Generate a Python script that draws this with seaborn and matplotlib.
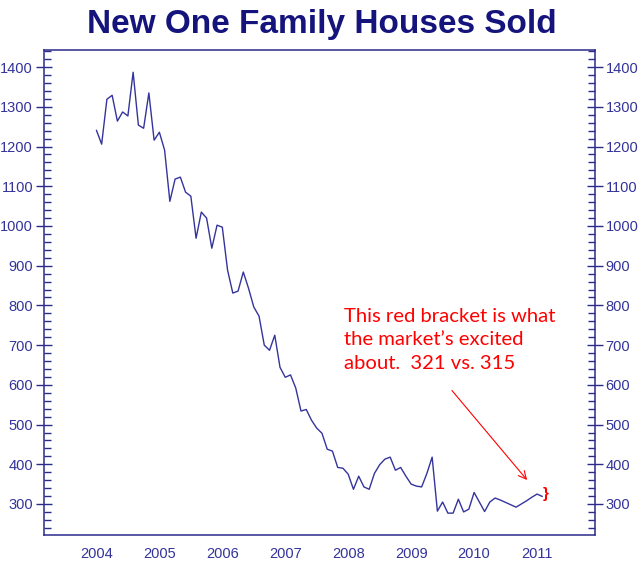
import numpy as np
import pandas as pd
import seaborn as sns
import matplotlib.pyplot as plt
from matplotlib.ticker import MultipleLocator

# monthly sales (thousands, annual rate)
sales = [1241, 1206, 1319, 1329, 1264, 1287, 1277, 1387, 1254, 1246, 1335, 1216,
         1236, 1191, 1062, 1118, 1123, 1085, 1075, 969, 1035, 1020, 944, 1002,
         997, 889, 831, 836, 884, 843, 796, 773, 700, 687, 725, 644,
         619, 625, 592, 534, 538, 511, 491, 478, 438, 433, 392, 390,
         375, 337, 370, 343, 337, 377, 399, 413, 418, 385, 392, 370,
         350, 345, 343, 377, 418, 282, 305, 277, 277, 312, 280, 287,
         329, 305, 281, 305, 315, 310, 304, 298, 292, 300, 308, 317,
         325, 319]
year_ticks = [2004, 2005, 2006, 2007, 2008, 2009, 2010, 2011]
note_lines = ["This red bracket is what", "the market\u2019s excited", "about.  321 vs. 315"]

# month positions along the chart's year axis
df = pd.DataFrame({"year": 2004 + np.arange(len(sales)) / 12, "sales": sales})

navy = "#2B2B8C"
sns.set_style("white")
plt.rcParams["font.family"] = ["Liberation Sans", "DejaVu Sans"]

fig = plt.figure(figsize=(6.43, 5.69), dpi=100)
ax = fig.add_axes([0.0677, 0.0598, 0.9253 - 0.0677, 0.9121 - 0.0598])

sns.lineplot(data=df, x="year", y="sales", ax=ax, color="#34349C", linewidth=1.0)

ax.set_xlim(2003.16, 2011.92)
ax.set_ylim(222, 1443)
ax.set_xticks(year_ticks)
ax.set_xticklabels([str(y) for y in year_ticks])
ax.yaxis.set_major_locator(MultipleLocator(100))
ax.yaxis.set_minor_locator(MultipleLocator(20))
ax.set_xlabel("")
ax.set_ylabel("")

for s in ax.spines.values():
    s.set_color(navy)
    s.set_linewidth(1.1)

ax.tick_params(axis="y", which="major", direction="inout", length=11, width=1.0,
               color=navy, labelcolor="#33339A", labelsize=10.5, pad=2,
               left=True, right=True, labelleft=True, labelright=True)
ax.tick_params(axis="y", which="minor", direction="in", length=5, width=1.0,
               color=navy, left=True, right=True)
ax.tick_params(axis="x", which="major", direction="inout", length=13, width=1.0,
               color=navy, labelcolor="#33339A", labelsize=10.5, pad=2)

# red bracket on the last two readings
ax.text(2011.14, 325, "}", color="#FF0000", fontsize=11, fontweight="bold",
        ha="center", va="center")

ax.text(2007.93, 794, "\n".join(note_lines), color="#FF0000", fontsize=14.6,
        family=["Lato", "DejaVu Sans"], ha="left", va="top", linespacing=1.47)
ax.annotate("", xy=(2010.87, 355), xytext=(2009.62, 591),
            arrowprops=dict(arrowstyle="->", color="#FF0000", lw=0.8,
                            mutation_scale=14))

fig.text(0.5, 1 - 33 / 569, "New One Family Houses Sold", ha="center",
         va="baseline", fontsize=24, fontweight="bold", color="#14147C")

fig.savefig("out.png", dpi=100)
